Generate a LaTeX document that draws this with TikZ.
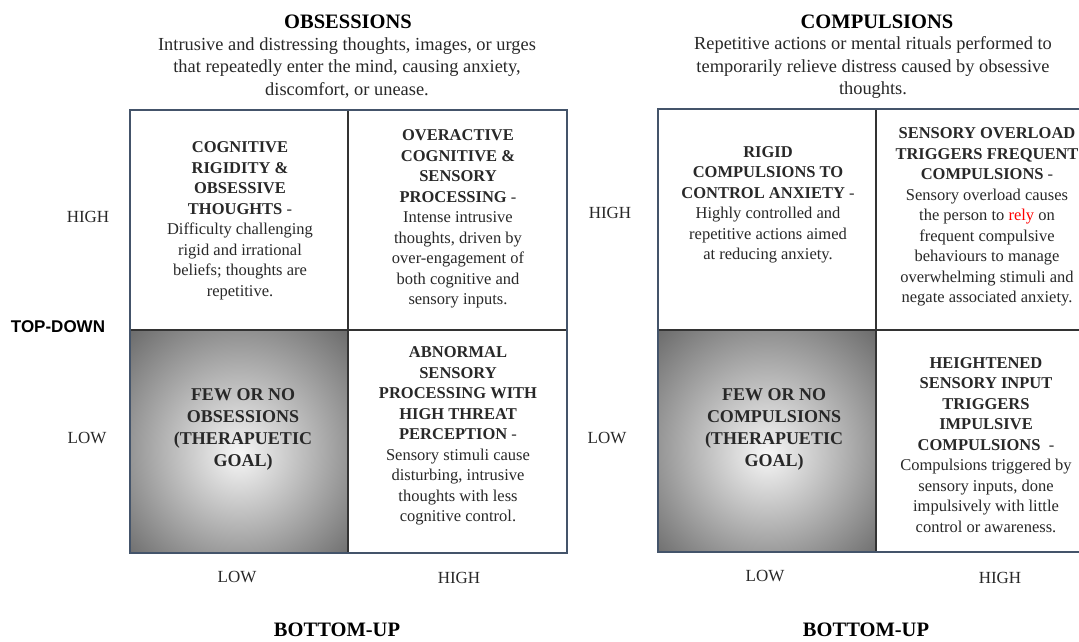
\documentclass[tikz,border=0pt]{standalone}
\usepackage{fontspec}
\setmainfont{Liberation Serif}
\setsansfont{Liberation Sans}
\usepackage{tikz}

\definecolor{slateframe}{RGB}{68,84,106}
\definecolor{inktext}{RGB}{40,40,40}
\pgfdeclareradialshading{goalglow}{\pgfpoint{0bp}{-3bp}}{color(0bp)=(white!97!black); color(3bp)=(white!92!black); color(36bp)=(black!58); color(50bp)=(black!58)}

\begin{document}
\begin{tikzpicture}[x=1pt,y=-1pt,
	celltext/.style={align=center,inner sep=0pt,text=inktext,font=\fontsize{16.5}{20.5}\selectfont},
	goaltext/.style={align=center,inner sep=0pt,text=inktext,font=\fontsize{18}{22}\selectfont\bfseries},
	axislabel/.style={inner sep=0pt,text=inktext,font=\fontsize{17}{20}\selectfont},
	titletext/.style={inner sep=0pt,font=\fontsize{20.5}{24}\selectfont\bfseries},
	desctext/.style={align=center,inner sep=0pt,text=inktext,font=\fontsize{18.4}{22.5}\selectfont},
	divider/.style={draw=black!80,line width=2pt},
	frame/.style={draw=slateframe,line width=2pt}]
	% Kuvan rajat
	\clip (0,0) rectangle (1079,642);
	\fill[white] (0,0) rectangle (1079,642);

	% Obsessions grid
	\shade[shading=goalglow] (130,330) rectangle (348,553);  % therapeutic goal cell
	\draw[divider] (348,110) -- (348,553);
	\draw[divider] (130,330) -- (567,330);
	\draw[frame] (130,110) rectangle (567,553);

	% Compulsions grid
	\shade[shading=goalglow] (658,330) rectangle (876,552);  % therapeutic goal cell
	\draw[divider] (876,109) -- (876,552);
	\draw[divider] (658,330) -- (1096,330);
	\draw[frame] (658,109) rectangle (1096,552);

	% Titles
	\node[titletext] (obstitle) at (348,22) {OBSESSIONS};
	\node[desctext] (obsdesc) at (347,68) {Intrusive and distressing thoughts, images, or urges\\that repeatedly enter the mind, causing anxiety,\\discomfort, or unease.};
	\node[titletext] (comptitle) at (877,22) {COMPULSIONS};
	\node[desctext] (compdesc) at (873,68) {Repetitive actions or mental rituals performed to\\temporarily relieve distress caused by obsessive\\thoughts.};

	% Obsessions cells
	\node[celltext] (obsTL) at (240,221) {\textbf{COGNITIVE}\\\textbf{RIGIDITY \&}\\\textbf{OBSESSIVE}\\\textbf{THOUGHTS} -\\Difficulty challenging\\rigid and irrational\\beliefs; thoughts are\\repetitive.};
	\node[celltext] (obsTR) at (458,219) {\textbf{OVERACTIVE}\\\textbf{COGNITIVE \&}\\\textbf{SENSORY}\\\textbf{PROCESSING} -\\Intense intrusive\\thoughts, driven by\\over-engagement of\\both cognitive and\\sensory inputs.};
	\node[goaltext] (obsBL) at (243,429) {FEW OR NO\\OBSESSIONS\\(THERAPUETIC\\GOAL)};
	\node[celltext] (obsBR) at (458,436) {\textbf{ABNORMAL}\\\textbf{SENSORY}\\\textbf{PROCESSING WITH}\\\textbf{HIGH THREAT}\\\textbf{PERCEPTION} -\\Sensory stimuli cause\\disturbing, intrusive\\thoughts with less\\cognitive control.};

	% Compulsions cells
	\node[celltext] (compTL) at (768,205) {\textbf{RIGID}\\\textbf{COMPULSIONS TO}\\\textbf{CONTROL ANXIETY} -\\Highly controlled and\\repetitive actions aimed\\at reducing anxiety.};
	\node[celltext] (compTR) at (987,217) {\textbf{SENSORY OVERLOAD}\\\textbf{TRIGGERS FREQUENT}\\\textbf{COMPULSIONS} -\\Sensory overload causes\\the person to \textcolor{red}{rely} on\\frequent compulsive\\behaviours to manage\\overwhelming stimuli and\\negate associated anxiety.};
	\node[goaltext] (compBL) at (774,429) {FEW OR NO\\COMPULSIONS\\(THERAPUETIC\\GOAL)};
	\node[celltext] (compBR) at (986,445) {\textbf{HEIGHTENED}\\\textbf{SENSORY INPUT}\\\textbf{TRIGGERS}\\\textbf{IMPULSIVE}\\\textbf{COMPULSIONS}~ -\\Compulsions triggered by\\sensory inputs, done\\impulsively with little\\control or awareness.};

	% Axis labels
	\node[axislabel] (obshigh) at (88,217) {HIGH};
	\node[axislabel] (obslow) at (87,438) {LOW};
	\node[inner sep=0pt,font=\fontsize{17}{20}\selectfont\sffamily\bfseries] (topdown) at (58,327) {TOP-DOWN};
	\node[axislabel] (comphigh) at (610,213) {HIGH};
	\node[axislabel] (complow) at (607,438) {LOW};
	\node[axislabel] (obsxlow) at (237,577) {LOW};
	\node[axislabel] (obsxhigh) at (459,578) {HIGH};
	\node[axislabel] (compxlow) at (765,576) {LOW};
	\node[axislabel] (compxhigh) at (1000,578) {HIGH};
	\node[titletext] (obsbottomup) at (337,630) {BOTTOM-UP};
	\node[titletext] (compbottomup) at (866,630) {BOTTOM-UP};
\end{tikzpicture}
\end{document}
